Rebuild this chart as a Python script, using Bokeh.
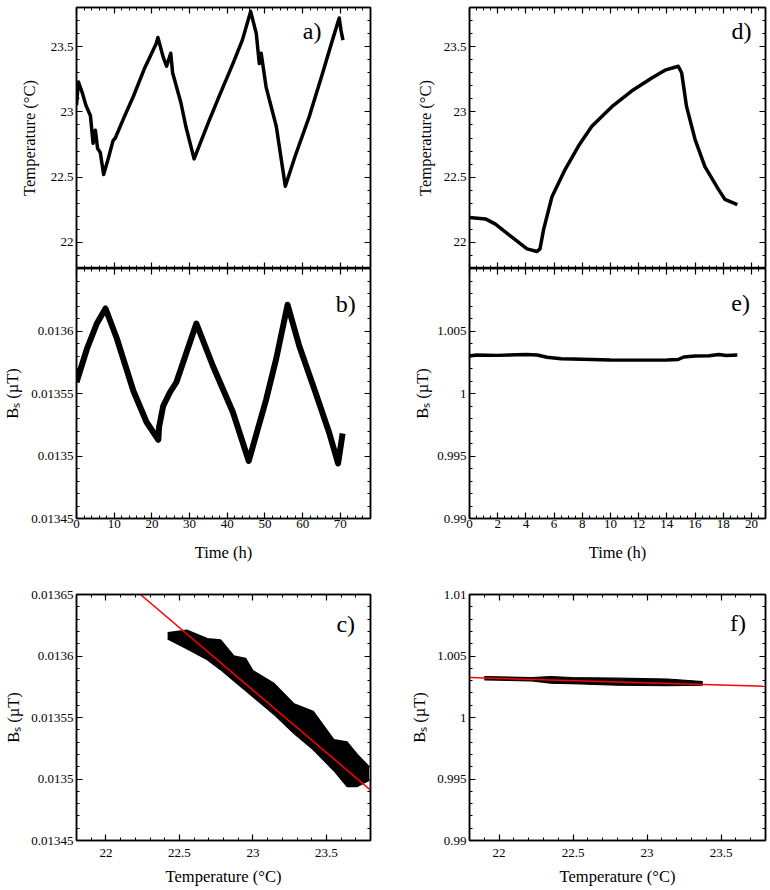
from bokeh.plotting import figure
from bokeh.layouts import column, row
from bokeh.models import (Range1d, LinearAxis, SingleIntervalTicker, CustomJSTickFormatter, Label,
                          CustomLabelingPolicy)
from bokeh.embed import file_html
from bokeh.resources import INLINE

# ---------------- data ----------------
# a) temperature vs time (long run)
t_a = [0, 0.5, 1.5, 2.5, 3.7, 4.4, 5.0, 5.6, 6.3, 7.2, 8.5, 9.7, 10.3, 12.5, 15.1, 18.0,
       21.1, 21.6, 23.0, 23.9, 25.0, 25.5, 27.7, 29.0, 31.2, 35.0, 38.0, 41.5, 44.0, 46.2,
       47.7, 48.5, 49.0, 49.5, 50.3, 53.0, 55.4, 58.0, 61.7, 65.0, 67.9, 69.7, 70.2, 70.7]
T_a = [23.05, 23.23, 23.15, 23.05, 22.97, 22.76, 22.86, 22.72, 22.69, 22.52, 22.65, 22.78,
       22.80, 22.95, 23.12, 23.33, 23.52, 23.57, 23.42, 23.35, 23.45, 23.30, 23.07, 22.89,
       22.64, 22.92, 23.13, 23.37, 23.55, 23.77, 23.60, 23.37, 23.45, 23.35, 23.19, 22.89,
       22.43, 22.66, 22.96, 23.27, 23.55, 23.72, 23.62, 23.55]

# b) field vs time (long run)
t_b = [0, 2.8, 5.4, 7.7, 10.7, 15.1, 18.6, 21.7, 21.9, 23.0, 24.8, 26.5, 29.2, 31.8, 36.2,
       41.5, 45.7, 50.3, 53.0, 56.0, 59.1, 63.5, 67.0, 69.4, 70.6]
B_b = [0.013559, 0.013586, 0.013606, 0.013618, 0.013594, 0.013552, 0.013527, 0.013513,
       0.013523, 0.013540, 0.013551, 0.013559, 0.013583, 0.013606, 0.013572, 0.013535,
       0.013496, 0.013545, 0.013578, 0.013621, 0.013588, 0.013550, 0.013519, 0.013494,
       0.013518]

# c) field vs temperature cloud (upper / lower edge) and linear fit
T_c = [22.42, 22.55, 22.69, 22.78, 22.87, 22.95, 23.0, 23.14, 23.28, 23.41, 23.55, 23.64, 23.71, 23.79]
B_c_up = [0.013619, 0.013621, 0.013614, 0.013613, 0.013600, 0.013598, 0.013588, 0.013578,
          0.013561, 0.013555, 0.013532, 0.013530, 0.013520, 0.013510]
B_c_lo = [0.013614, 0.013606, 0.013597, 0.013589, 0.013580, 0.013572, 0.013567, 0.013553,
          0.013537, 0.013524, 0.013507, 0.013494, 0.013494, 0.013499]
fit_c_T = [22.235, 23.8]
fit_c_B = [0.01365, 0.013491]

# d) temperature vs time (short run)
t_d = [0, 1.13, 1.84, 2.78, 3.49, 4.08, 4.79, 5.0, 5.26, 5.85, 6.79, 7.74, 8.68, 10.1, 11.5,
       12.93, 13.87, 14.81, 15.05, 15.4, 16.0, 16.7, 17.64, 18.12, 19.0]
T_d = [22.19, 22.18, 22.14, 22.06, 22.0, 21.95, 21.93, 21.95, 22.10, 22.35, 22.56, 22.74,
       22.89, 23.04, 23.16, 23.26, 23.32, 23.35, 23.30, 23.04, 22.79, 22.58, 22.41, 22.33, 22.29]

# e) field vs time (short run)
t_e = [0, 0.5, 2, 4, 4.8, 5.5, 6.5, 8, 10, 12, 14, 14.8, 15.2, 16, 17, 17.7, 18.2, 19.0]
B_e = [1.00300, 1.00308, 1.00305, 1.00312, 1.00308, 1.00290, 1.00278, 1.00274, 1.00268,
       1.00267, 1.00268, 1.00272, 1.00292, 1.00300, 1.00302, 1.00312, 1.00304, 1.00308]

# f) field vs temperature cloud and linear fit
T_f = [21.90, 22.0, 22.22, 22.35, 22.49, 22.8, 23.14, 23.376]
B_f_up = [1.00333, 1.00330, 1.00325, 1.00333, 1.00325, 1.00320, 1.00313, 1.00292]
B_f_lo = [1.00306, 1.00303, 1.00298, 1.00279, 1.00276, 1.00263, 1.00258, 1.00263]
fit_f_T = [21.8, 23.8]
fit_f_B = [1.00325, 1.00254]

TEMP_LABEL = "Temperature (°C)"
FIELD_LABEL = "Bₛ (µT)"
TIME_LABEL = "Time (h)"

FONT = "Liberation Serif"
TICK_FS = "13px"
LAB_FS = "16.5px"

HIDE_CODE = """
try {
  for (const i of Array.from(indices)) { indices.unset(i) }
} catch (e) {}
return indices
"""


def formatter(hide_top=None):
    code = ""
    if hide_top is not None:
        code += "if (Math.abs(tick - top) < 1e-9) { return ''; }\n"
    code += "return String(parseFloat(tick.toPrecision(10)));"
    return CustomJSTickFormatter(args=dict(top=hide_top if hide_top is not None else 0), code=code)


def style_axis(ax, show, label=None, standoff=8, hide_top=None, tick_standoff=3):
    ax.major_tick_in = 6
    ax.major_tick_out = 0
    ax.minor_tick_in = 3
    ax.minor_tick_out = 0
    ax.axis_line_width = 1.5
    ax.axis_line_color = "black"
    ax.major_tick_line_color = "black"
    ax.minor_tick_line_color = "black"
    ax.major_tick_line_width = 1.2
    ax.minor_tick_line_width = 1.0
    ax.major_label_text_font = FONT
    ax.major_label_text_color = "black"
    ax.formatter = formatter(hide_top)
    if show:
        ax.major_label_text_font_size = TICK_FS
        ax.major_label_standoff = tick_standoff
    else:
        ax.major_label_text_font_size = "0px"
        ax.major_label_standoff = 0
        ax.major_label_policy = CustomLabelingPolicy(code=HIDE_CODE)
    if label:
        ax.axis_label = label
        ax.axis_label_text_font = FONT
        ax.axis_label_text_font_size = LAB_FS
        ax.axis_label_text_font_style = "normal"
        ax.axis_label_text_color = "black"
        ax.axis_label_standoff = standoff


def make(width, height, xr, yr, xint, xminor, yint, yminor, borders,
         xlabels, xlabel, ylabel, ystand, xstand=6, hide_top=False, xtick_standoff=3):
    left, right, top, bottom = borders
    p = figure(width=width, height=height, x_range=Range1d(*xr), y_range=Range1d(*yr),
               output_backend="svg", toolbar_location=None,
               min_border_left=left, min_border_right=right,
               min_border_top=top, min_border_bottom=bottom)
    p.xgrid.visible = False
    p.ygrid.visible = False
    p.outline_line_color = "black"
    p.outline_line_width = 1.5
    p.background_fill_color = "white"
    p.border_fill_color = "white"
    p.xaxis.ticker = SingleIntervalTicker(interval=xint, num_minor_ticks=xminor)
    p.yaxis.ticker = SingleIntervalTicker(interval=yint, num_minor_ticks=yminor)
    style_axis(p.xaxis[0], xlabels, xlabel, xstand, tick_standoff=xtick_standoff)
    style_axis(p.yaxis[0], True, ylabel, ystand, hide_top=yr[1] if hide_top else None)
    top_ax = LinearAxis(ticker=SingleIntervalTicker(interval=xint, num_minor_ticks=xminor))
    style_axis(top_ax, False)
    p.add_layout(top_ax, "above")
    right_ax = LinearAxis(ticker=SingleIntervalTicker(interval=yint, num_minor_ticks=yminor))
    style_axis(right_ax, False)
    p.add_layout(right_ax, "right")
    return p


def panel_label(p, text, x, y):
    p.add_layout(Label(x=x, y=y, text=text, text_font=FONT, text_font_size="24px",
                       text_align="right", text_baseline="middle", text_color="black"))


LW, RW = 380, 388
H1, H2, H3 = 268, 297, 323

# row 1
pa = make(LW, H1, (0, 78), (21.8, 23.8), 10, 5, 0.5, 5, (76, 10, 7, 0),
          False, None, TEMP_LABEL, 9)
pa.line(t_a, T_a, line_color="black", line_width=3.5, line_join="round")
panel_label(pa, "a)", 65, 23.62)

pd = make(RW, H1, (0, 21), (21.8, 23.8), 2, 4, 0.5, 5, (89, 3, 7, 0),
          False, None, TEMP_LABEL, 6)
pd.line(t_d, T_d, line_color="black", line_width=3.5, line_join="round")
panel_label(pd, "d)", 20.0, 23.62)

# row 2
pb = make(LW, H2, (0, 78), (0.01345, 0.01365), 10, 5, 0.00005, 5, (76, 10, 0, 47),
          True, TIME_LABEL, FIELD_LABEL, 6, xstand=12, hide_top=True, xtick_standoff=1)
pb.line(t_b, B_b, line_color="black", line_width=6, line_join="round")
panel_label(pb, "b)", 74.1, 0.013622)

pe = make(RW, H2, (0, 21), (0.99, 1.01), 2, 4, 0.005, 5, (89, 3, 0, 47),
          True, TIME_LABEL, FIELD_LABEL, 2, xstand=12, hide_top=True, xtick_standoff=1)
pe.line(t_e, B_e, line_color="black", line_width=3.5, line_join="round")
panel_label(pe, "e)", 19.9, 1.00721)

# row 3
pc = make(LW, H3, (21.8, 23.8), (0.01345, 0.01365), 0.5, 5, 0.00005, 5, (76, 10, 29, 48),
          True, TEMP_LABEL, FIELD_LABEL, 5, xstand=7, xtick_standoff=8)
pc.varea(x=T_c, y1=B_c_lo, y2=B_c_up, fill_color="black")
pc.line(T_c, B_c_up, line_color="black", line_width=1.5, line_join="round")
pc.line(T_c, B_c_lo, line_color="black", line_width=1.5, line_join="round")
pc.line(fit_c_T, fit_c_B, line_color="#ff0000", line_width=1.5)
panel_label(pc, "c)", 23.695, 0.013626)

pf = make(RW, H3, (21.8, 23.8), (0.99, 1.01), 0.5, 5, 0.005, 5, (89, 3, 29, 48),
          True, TEMP_LABEL, FIELD_LABEL, 5, xstand=7, xtick_standoff=8)
pf.varea(x=T_f, y1=B_f_lo, y2=B_f_up, fill_color="black")
pf.line(T_f, B_f_up, line_color="black", line_width=1.2, line_join="round")
pf.line(T_f, B_f_lo, line_color="black", line_width=1.2, line_join="round")
pf.line(fit_f_T, fit_f_B, line_color="#ff0000", line_width=1.5)
panel_label(pf, "f)", 23.668, 1.0077)

layout = column(row(pa, pd, spacing=0), row(pb, pe, spacing=0), row(pc, pf, spacing=0), spacing=0)

with open("out.html", "w") as fh:
    fh.write(file_html(layout, INLINE, title="plot"))
